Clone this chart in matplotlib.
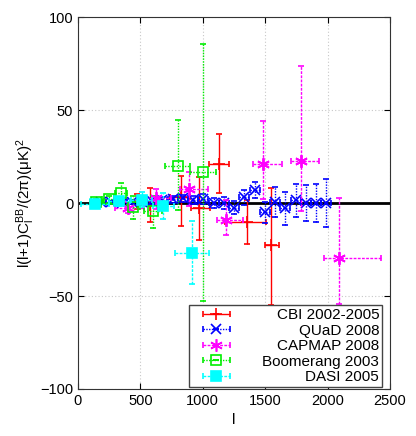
import numpy as np
import matplotlib
matplotlib.use("Agg")
import matplotlib.pyplot as plt
from matplotlib.container import ErrorbarContainer
from matplotlib.legend_handler import HandlerErrorbar

plt.rcParams['font.family'] = ['Liberation Sans', 'DejaVu Sans']
plt.rcParams['mathtext.fontset'] = 'custom'
plt.rcParams['mathtext.rm'] = 'Liberation Sans'
plt.rcParams['mathtext.it'] = 'Liberation Sans'
plt.rcParams['mathtext.default'] = 'regular'

# CBI 2002-2005
cbi_l = [470, 580, 824, 973, 1126, 1354, 1549]
cbi_y = [1.0, -1.0, 3.5, -2.8, 21.2, -10.1, -22.7]
cbi_ylo = [4, 9, 16, 17, 16, 12, 32]
cbi_yhi = [4, 9, 11, 17, 16, 12, 31]
cbi_xlo = [50, 60, 86, 66, 80, 174, 48]
cbi_xhi = [50, 60, 75, 86, 80, 152, 59]

# QUaD 2008
quad_l = [185, 267, 349, 431, 513, 595, 677, 759, 841, 923, 1005, 1087,
          1169, 1251, 1333, 1415, 1497, 1579, 1661, 1743, 1825, 1907, 1989]
quad_y = [0.3, 0.5, 0.2, 0.6, 0.4, 1.0, 1.5, 2.0, 2.5, 1.8, 2.2, 0.0,
          0.2, -2.4, 3.0, 7.0, -5.0, 0.5, -2.8, 1.4, 0.0, 0.0, 0.0]
quad_err = [0.8, 0.8, 1.0, 1.0, 1.2, 1.4, 1.6, 1.8, 2.0, 2.2, 2.5, 2.8,
            3.2, 3.6, 4.0, 4.5, 5.5, 8.0, 9.0, 9.0, 9.5, 10.0, 13.0]
quad_xerr = 40

# CAPMAP 2008
cap_l = [400, 626, 891, 1185, 1479, 1787, 2089]
cap_y = [-2.5, 2.6, 7.6, -9.3, 21.2, 22.8, -29.5]
cap_ylo = [3, 6, 9, 8, 19, 27, 25]
cap_yhi = [3, 5, 9, 11, 23, 51, 32]
cap_xlo = [100, 90, 72, 72, 80, 80, 115]
cap_xhi = [130, 120, 150, 140, 156, 147, 340]

# Boomerang 2003
boom_l = [147, 246, 343, 444, 600, 800, 1000]
boom_y = [0.5, 2.0, 5.5, -2.2, -4.4, 19.8, 16.6]
boom_err_lo = [1.5, 2.0, 5.5, 6.5, 9.0, 23.5, 69.4]
boom_err_hi = [1.5, 2.0, 5.4, 6.0, 8.1, 25.1, 69.0]
boom_xerr = [50, 50, 50, 50, 75, 100, 103]

# DASI 2005
dasi_l = [136, 331, 511, 685, 912]
dasi_y = [-0.4, 1.0, 1.9, -1.7, -26.8]
dasi_err = [1.5, 2.5, 4.0, 7.0, 17.0]
dasi_xlo = [108, 85, 90, 88, 134]
dasi_xhi = [109, 89, 85, 87, 134]

fig = plt.figure(figsize=(4.16, 4.36), dpi=100)
ax = fig.add_axes([0.1875, 0.1078, 0.75, 0.853])

ax.axhline(0, color='black', lw=2, zorder=1.5)


def draw(l, y, xe, ye, color, marker, ms, ls, label, mfc=None, z=2):
    eb = ax.errorbar(l, y, xerr=xe, yerr=ye, fmt=marker, color=color, ms=ms,
                     mfc=mfc if mfc else color, mec=color, mew=1.2,
                     elinewidth=1, capsize=2, capthick=1, label=label, zorder=z)
    for c in eb[2]:
        c.set_linestyle(ls)
    return eb


draw(cbi_l, cbi_y, [cbi_xlo, cbi_xhi], [cbi_ylo, cbi_yhi], '#ff0000', '+', 8,
     '-', 'CBI 2002-2005', z=2)
draw(quad_l, quad_y, quad_xerr, quad_err, '#0000ff', 'x', 7, (0, (1, 1)),
     'QUaD 2008', z=2.1)
draw(cap_l, cap_y, [cap_xlo, cap_xhi], [cap_ylo, cap_yhi], '#ff00ff', '*', 0.1,
     (0, (2, 1)), 'CAPMAP 2008', z=2.2)
ax.plot(cap_l, cap_y, ls='none', marker=(6, 2, 0), ms=9, color='#ff00ff',
        mew=1.2, zorder=2.25)
draw(boom_l, boom_y, boom_xerr, [boom_err_lo, boom_err_hi], '#00ee00', 's', 6.5,
     (0, (1, 1)), 'Boomerang 2003', mfc='none', z=2.3)
draw(dasi_l, dasi_y, [dasi_xlo, dasi_xhi], dasi_err, '#00ffff', 's', 7,
     (0, (2, 1)), 'DASI 2005', z=2.4)

ax.set_xlim(0, 2500)
ax.set_ylim(-100, 100)
ax.set_xticks([0, 500, 1000, 1500, 2000, 2500])
ax.set_yticks([-100, -50, 0, 50, 100])
ax.tick_params(direction='in', top=True, right=True, labelsize=10.5, length=4)
ax.grid(True, color='#c8c8c8', ls=(0, (1, 2)), lw=0.8)
ax.set_axisbelow(True)
for s in ax.spines.values():
    s.set_color('#333333')

ax.set_xlabel('l', fontsize=11)
ax.set_ylabel('l(l+1)C$_l^{BB}$/(2π)(μK)$^2$', fontsize=11, labelpad=2)

# legend: CAPMAP marker as asterisk proxy
handles, labels = ax.get_legend_handles_labels()
handles[2][0].set_marker((6, 2, 0))
handles[2][0].set_markersize(9)
leg = ax.legend(handles, labels, loc='lower right', fontsize=11,
                bbox_to_anchor=(0.975, 0.005), fancybox=False,
                edgecolor='#444444', framealpha=1, borderpad=0.2,
                labelspacing=0.1, handlelength=3.2, handletextpad=1.4,
                borderaxespad=0,
                handler_map={ErrorbarContainer: HandlerErrorbar(xerr_size=0.9, yerr_size=0)})
leg.get_frame().set_linewidth(1)

# right-align legend texts (gnuplot style)
fig.canvas.draw()
renderer = fig.canvas.get_renderer()
widths = [t.get_window_extent(renderer).width for t in leg.get_texts()]
shift = max(widths)
for t, w in zip(leg.get_texts(), widths):
    t.set_position((shift - w, 0))

fig.savefig('out.png', dpi=100)
